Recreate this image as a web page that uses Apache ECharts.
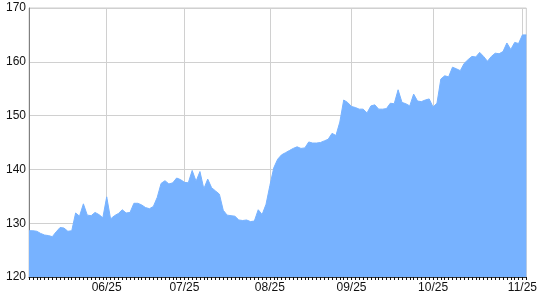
<!DOCTYPE html>
<html>
<head>
<meta charset="utf-8">
<script src="https://cdn.jsdelivr.net/npm/echarts@6/dist/echarts.min.js"></script>
<style>html,body{margin:0;padding:0;background:#fff}#c{width:540px;height:300px}</style>
</head>
<body>
<div id="c"></div>
<script>
// Trading-day range (US market, 2025)
const startDate = '2025-05-02';
const endDate = '2025-11-04';
const holidays = ['2025-05-26', '2025-06-19', '2025-07-04', '2025-09-01'];

// Closing values, one per trading day
const values = [
  128.6,128.6,128.5,128.1,127.8,127.7,127.5,128.4,129.2,129.1,
  128.5,128.6,131.9,131.3,133.6,131.5,131.4,132.0,131.6,131.0,
  134.9,130.8,131.4,131.8,132.5,131.9,132.0,133.7,133.7,133.4,
  132.9,132.7,133.1,134.8,137.4,137.9,137.3,137.5,138.4,138.1,
  137.6,137.5,139.8,137.8,139.6,136.4,138.2,136.6,136.0,135.4,
  132.4,131.5,131.4,131.3,130.6,130.5,130.6,130.3,130.4,132.5,
  131.6,133.5,137.0,140.3,141.9,142.7,143.1,143.5,143.9,144.2,
  143.9,144.0,145.1,144.9,144.9,145.0,145.3,145.6,146.7,146.3,
  148.8,152.9,152.45,151.7,151.5,151.2,151.2,150.5,151.8,152.0,
  151.2,151.2,151.3,152.3,152.2,154.8,152.45,152.2,151.8,154.0,
  152.7,152.6,152.9,153.1,151.6,152.3,156.8,157.4,157.2,159.0,
  158.7,158.35,159.7,160.4,161.0,160.9,161.75,161.0,160.1,161.0,
  161.6,161.5,161.9,163.5,162.3,163.6,163.4,165.0,165.0
];

const yTicks = [120, 130, 140, 150, 160, 170];

// Build category dates (weekdays minus holidays)
const dates = [];
for (let d = new Date(startDate + 'T00:00:00Z'); d <= new Date(endDate + 'T00:00:00Z'); d.setUTCDate(d.getUTCDate() + 1)) {
  const wd = d.getUTCDay();
  const s = d.toISOString().slice(0, 10);
  if (wd === 0 || wd === 6 || holidays.includes(s)) continue;
  dates.push(s);
}
// label on first trading day of each month (after the first month)
const labelIdx = new Set();
for (let i = 1; i < dates.length; i++) {
  if (dates[i].slice(5, 7) !== dates[i - 1].slice(5, 7)) labelIdx.add(i);
}
const fmt = s => s.slice(5, 7) + '/' + s.slice(2, 4);

const chart = echarts.init(document.getElementById('c'), null, {renderer: 'canvas'});
chart.setOption({
  animation: false,
  grid: {left: 29, right: 13, top: 8, bottom: 23, show: true, borderColor: '#cccccc', borderWidth: 1, backgroundColor: 'transparent'},
  xAxis: {
    type: 'category',
    data: dates,
    boundaryGap: false,
    axisLine: {show: true, onZero: false, lineStyle: {color: '#333', width: 1}},
    axisTick: {show: true, interval: 0, length: 3, lineStyle: {color: '#111'}},
    axisLabel: {
      interval: (i) => labelIdx.has(i),
      formatter: v => fmt(v),
      color: '#111', fontFamily: 'Liberation Sans, Arial, sans-serif', fontSize: 12, margin: 5
    },
    splitLine: {show: true, interval: (i) => labelIdx.has(i), lineStyle: {color: '#d0d0d0', width: 1}}
  },
  yAxis: {
    type: 'value',
    min: yTicks[0], max: yTicks[yTicks.length - 1], interval: 10,
    axisLine: {show: true, lineStyle: {color: '#808080'}},
    axisTick: {show: false},
    axisLabel: {color: '#111', fontFamily: 'Liberation Sans, Arial, sans-serif', fontSize: 12, margin: 3},
    splitLine: {show: true, lineStyle: {color: '#d0d0d0', width: 1}}
  },
  series: [{
    type: 'line',
    data: values,
    symbol: 'none',
    lineStyle: {width: 1, color: '#77b2ff'},
    areaStyle: {color: '#77b2ff', opacity: 1, origin: 'start'},
    z: 1
  }]
});
</script>
</body>
</html>
